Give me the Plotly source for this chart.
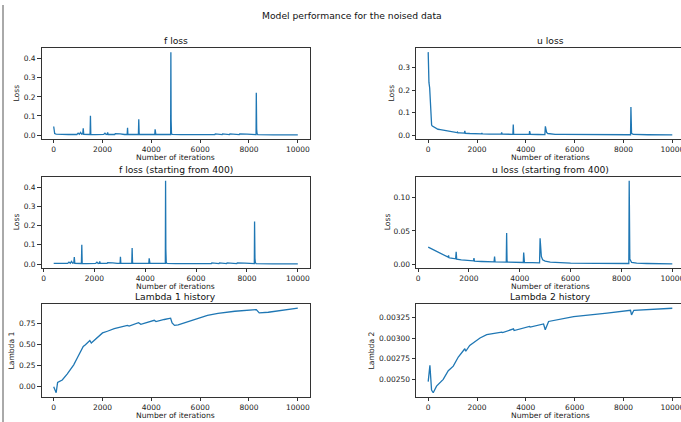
import plotly.graph_objects as go

# ---------------- data ----------------
f_iter = [0, 10, 40, 100, 200, 400, 600, 800, 950,
          1000, 1050, 1100, 1150, 1190, 1210, 1230, 1300,
          1490, 1505, 1520, 1700,
          2050, 2100, 2150, 2190, 2210, 2230, 2400, 2500, 2520, 2700, 2720, 2900,
          3010, 3025, 3040, 3470, 3485, 3500, 3515,
          4140, 4155, 4170, 4185,
          4790, 4800, 4805, 4810, 4825, 4850, 5200,
          6000, 6600, 6620, 6900, 6920, 7200, 7220, 7600, 7620, 7900, 7920,
          8290, 8300, 8305, 8315, 8330, 8360, 9000, 10000]
f_loss = [0.045, 0.02, 0.008, 0.005, 0.004, 0.003, 0.003, 0.004, 0.003,
          0.010, 0.004, 0.014, 0.004, 0.006, 0.036, 0.004, 0.003,
          0.003, 0.101, 0.003, 0.002,
          0.003, 0.010, 0.003, 0.004, 0.014, 0.003, 0.003, 0.003, 0.007, 0.003, 0.006, 0.003,
          0.003, 0.038, 0.003, 0.003, 0.083, 0.010, 0.003,
          0.003, 0.030, 0.012, 0.003,
          0.003, 0.435, 0.24, 0.08, 0.01, 0.003, 0.002,
          0.002, 0.002, 0.006, 0.002, 0.006, 0.002, 0.006, 0.002, 0.006, 0.002, 0.005,
          0.002, 0.222, 0.18, 0.03, 0.008, 0.002, 0.001, 0.001]

u_iter = [0, 10, 30, 60, 100, 140, 170, 250, 330, 400, 500, 600, 700, 800, 900,
          1000, 1100, 1180, 1200, 1220, 1300, 1400, 1480, 1500, 1520, 1700,
          2000, 2180, 2200, 2220, 2500, 2990, 3010, 3030,
          3470, 3485, 3500, 3515, 4000, 4140, 4155, 4170, 4185, 4500,
          4780, 4800, 4820, 4850, 4900, 5000, 5200, 5500, 6000, 7000, 8000,
          8290, 8305, 8315, 8330, 8400, 8600, 9000, 10000]
u_loss = [0.37, 0.245, 0.235, 0.21, 0.12, 0.045, 0.040, 0.034, 0.029, 0.026, 0.024, 0.022, 0.020, 0.018, 0.016,
          0.014, 0.012, 0.011, 0.0135, 0.010, 0.0095, 0.009, 0.0085, 0.019, 0.008, 0.007,
          0.006, 0.0055, 0.0095, 0.005, 0.0045, 0.004, 0.012, 0.004,
          0.0035, 0.047, 0.006, 0.0035, 0.003, 0.003, 0.018, 0.006, 0.003, 0.0027,
          0.0025, 0.039, 0.030, 0.012, 0.007, 0.005, 0.0035, 0.0028, 0.002, 0.0017, 0.0015,
          0.0015, 0.125, 0.03, 0.008, 0.003, 0.002, 0.0015, 0.001]

l1_iter = [0, 100, 160, 250, 350, 550, 820, 980, 1100, 1210, 1300, 1480, 1540, 1720,
           2000, 2200, 2480, 3020, 3090, 3475, 3570, 4120, 4190, 4530, 4790, 4850,
           4950, 5100, 5500, 5900, 6300, 6730, 7420, 8300, 8420, 8790, 10000]
lambda1 = [0.0, -0.072, 0.05, 0.06, 0.08, 0.15, 0.26, 0.35, 0.42, 0.48, 0.50, 0.55, 0.52, 0.565,
           0.64, 0.66, 0.69, 0.73, 0.722, 0.762, 0.742, 0.79, 0.775, 0.80, 0.815, 0.76,
           0.73, 0.735, 0.775, 0.818, 0.85, 0.874, 0.898, 0.918, 0.878, 0.886, 0.934]

l2_iter = [0, 70, 137, 205, 342, 480, 616, 822, 1027, 1233, 1466, 1500, 1540, 1700,
           2123, 2397, 3014, 3050, 3493, 3520, 4150, 4178, 4726, 4795, 4932,
           5959, 7329, 8288, 8330, 8425, 10000]
lambda2 = [0.002472, 0.00267, 0.00237, 0.002338, 0.002418, 0.00246, 0.0025, 0.002605, 0.00266, 0.00277, 0.00285, 0.00287, 0.00284, 0.00291,
           0.0030, 0.00304, 0.00307, 0.003065, 0.00311, 0.00309, 0.00314, 0.003132, 0.00317, 0.0031, 0.0032,
           0.003258, 0.0033, 0.003335, 0.00328, 0.003335, 0.00336]

start_from = 400
f_iter_400 = [i for i in f_iter if i >= start_from]
f_loss_400 = [v for i, v in zip(f_iter, f_loss) if i >= start_from]
u_iter_400 = [i for i in u_iter if i >= start_from]
u_loss_400 = [v for i, v in zip(u_iter, u_loss) if i >= start_from]

titles = ["f loss", "u loss", "f loss (starting from 400)", "u loss (starting from 400)",
          "Lambda 1 history", "Lambda 2 history"]
ylabels = ["Loss", "Loss", "Loss", "Loss", "Lambda 1", "Lambda 2"]
xlabel = "Number of iterations"
suptitle = "Model performance for the noised data"

# ---------------- layout ----------------
W, H = 681, 422
FONT = "DejaVu Sans"
BLUE = "#1f77b4"
SPINE = "#333333"

# panel pixel boxes: (left, right, top, bottom); right column extends past the page edge
col_x = [(41.5, 310.0), (416.0, 684.5)]
row_y = [(48.0, 139.0), (176.5, 268.0), (304.0, 397.0)]

series = [
    (f_iter, f_loss), (u_iter, u_loss),
    (f_iter_400, f_loss_400), (u_iter_400, u_loss_400),
    (l1_iter, lambda1), (l2_iter, lambda2),
]
ytick_fmt = [".1f", ".1f", ".1f", ".2f", ".2f", ".5f"]
ytick_vals = [
    [0, 0.1, 0.2, 0.3, 0.4],
    [0, 0.1, 0.2, 0.3],
    [0, 0.1, 0.2, 0.3, 0.4],
    [0, 0.05, 0.10],
    [0, 0.25, 0.5, 0.75],
    [0.0025, 0.00275, 0.003, 0.00325],
]
ylabel_x = [16, 391, 16, 387, 11, 371]

fig = go.Figure()
annotations = []


def pad(lo, hi, m=0.05):
    d = hi - lo
    return lo - m * d, hi + m * d


for k, (xs, ys) in enumerate(series):
    r, c = divmod(k, 2)
    xl, xr = col_x[c]
    yt, yb = row_y[r]
    ax = "" if k == 0 else str(k + 1)
    xa = "x" + ax
    ya = "y" + ax
    fig.add_trace(go.Scatter(x=xs, y=ys, mode="lines", line=dict(color=BLUE, width=1.3),
                             xaxis=xa, yaxis=ya, showlegend=False, hoverinfo="skip"))
    x0, x1 = pad(min(xs), max(xs))
    y0, y1 = pad(min(ys), max(ys))
    xr_vis = min(xr, W)
    x1_vis = x0 + (x1 - x0) * (xr_vis - xl) / (xr - xl)
    common = dict(showgrid=False, zeroline=False, showline=True, linecolor=SPINE, linewidth=0.8,
                  ticks="outside", ticklen=3.5, tickwidth=0.8, tickcolor=SPINE,
                  ticklabeloverflow="allow",
                  tickfont=dict(family=FONT, size=7.5, color="#222222"), automargin=False)
    fig.layout["xaxis" + ax] = dict(domain=[xl / W, xr_vis / W], range=[x0, x1_vis], anchor=ya,
                                    tickvals=[0, 2000, 4000, 6000, 8000, 10000], tickformat="d",
                                    mirror=True, **common)
    fig.layout["yaxis" + ax] = dict(domain=[1 - yb / H, 1 - yt / H], range=[y0, y1], anchor=xa,
                                    tickvals=ytick_vals[k], tickformat=ytick_fmt[k],
                                    mirror=(c == 0), **common)
    xc = (xl + xr) / 2
    annotations.append(dict(text=titles[k], x=xc / W, y=1 - (yt - 7.5) / H, xref="paper", yref="paper",
                            xanchor="center", yanchor="middle", showarrow=False,
                            font=dict(family=FONT, size=9.2, color="#111111")))
    annotations.append(dict(text=xlabel, x=xc / W, y=1 - (yb + 18.5) / H, xref="paper", yref="paper",
                            xanchor="center", yanchor="middle", showarrow=False,
                            font=dict(family=FONT, size=7.6, color="#222222")))
    annotations.append(dict(text=ylabels[k], x=ylabel_x[k] / W, y=1 - (yt + yb) / 2 / H,
                            xref="paper", yref="paper", xanchor="center", yanchor="middle",
                            textangle=-90, showarrow=False,
                            font=dict(family=FONT, size=7.6, color="#222222")))

annotations.append(dict(text=suptitle, x=351.5 / W, y=1 - 15.7 / H, xref="paper", yref="paper",
                        xanchor="center", yanchor="middle", showarrow=False,
                        font=dict(family=FONT, size=9.2, color="#111111")))

fig.update_layout(
    width=W, height=H,
    margin=dict(l=0, r=0, t=0, b=0),
    paper_bgcolor="white", plot_bgcolor="white",
    template="none",
    annotations=annotations,
    shapes=[dict(type="line", xref="paper", yref="paper", x0=3 / W, x1=3 / W,
                 y0=0, y1=1 - 5 / H, line=dict(color="#555555", width=1))],
)

fig.write_html("out.html", config={"displayModeBar": False},
               post_script="document.body.style.margin='0';document.body.style.overflow='hidden';")
